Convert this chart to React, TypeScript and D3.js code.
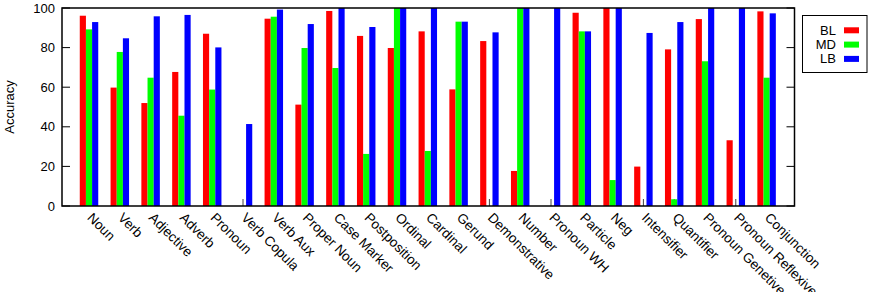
import React, { useEffect, useRef } from "react";
import * as d3 from "d3";

const categories = [
  "Noun", "Verb", "Adjective", "Adverb", "Pronoun", "Verb Copula", "Verb Aux",
  "Proper Noun", "Case Marker", "Postposition", "Ordinal", "Cardinal", "Gerund",
  "Demonstrative", "Number", "Pronoun WH", "Particle", "Neg", "Intensifier",
  "Quantifier", "Pronoun Genetive", "Pronoun Reflexive", "Conjunction",
];
const blValues = [96.1, 59.8, 52, 67.7, 87, 0, 94.6, 51.2, 98.5, 85.9, 79.8, 88.2, 58.9, 83.3, 17.7, 0, 97.6, 100, 19.9, 79.1, 94.4, 33.2, 98.3];
const mdValues = [89.2, 77.8, 64.8, 45.6, 58.8, 0, 95.6, 79.8, 69.7, 26.3, 100, 27.8, 93.1, 0, 100, 0, 88.2, 13.1, 0, 3.4, 73.1, 0, 64.8];
const lbValues = [92.9, 84.7, 95.8, 96.5, 80.1, 41.4, 99.2, 91.9, 100, 90.4, 100, 100, 93.1, 87.7, 100, 100, 88.2, 100, 87.4, 92.9, 100, 100, 97.3];
const seriesNames = ["BL", "MD", "LB"];
const seriesColors = ["#ff0000", "#00ff00", "#0000ff"];
const yTicks = [0, 20, 40, 60, 80, 100];

const W = 873;
const H = 292;
const L = 62, R = 794.5, T = 8, B = 206;

export default function App() {
  const ref = useRef<SVGSVGElement>(null);
  useEffect(() => {
    const svg = d3.select(ref.current);
    svg.selectAll("*").remove();
    const font = "'Liberation Sans', Arial, Helvetica, sans-serif";
    const x = d3.scaleLinear().domain([-0.877, 22.906]).range([L, R]);
    const y = d3.scaleLinear().domain([0, 100]).range([B, T]);
    const step = x(1) - x(0);
    const bw = step / 5;
    const series = [blValues, mdValues, lbValues];

    // y ticks (inward, both sides)
    const g = svg.append("g");
    yTicks.forEach((t) => {
      g.append("line").attr("x1", L).attr("x2", L + 8).attr("y1", y(t)).attr("y2", y(t)).attr("stroke", "#000");
      g.append("line").attr("x1", R - 8).attr("x2", R).attr("y1", y(t)).attr("y2", y(t)).attr("stroke", "#000");
      g.append("text").attr("x", L - 7).attr("y", y(t)).attr("dy", "0.35em")
        .attr("text-anchor", "end").attr("font-family", font).attr("font-size", 13).text(String(t));
    });
    // x ticks (inward, bottom)
    categories.forEach((c, i) => {
      g.append("line").attr("x1", x(i)).attr("x2", x(i)).attr("y1", B).attr("y2", B - 7).attr("stroke", "#444");
      g.append("text")
        .attr("transform", `translate(${x(i) - 2.5},${218.5}) rotate(45)`)
        .attr("text-anchor", "start").attr("font-family", font).attr("font-size", 13.6).text(c);
    });

    // bars
    series.forEach((vals, s) => {
      svg.append("g").selectAll("rect").data(vals).join("rect")
        .attr("x", (_d, i) => x(i) + (s - 1) * bw - bw / 2)
        .attr("width", bw)
        .attr("y", (d) => y(d))
        .attr("height", (d) => B - y(d))
        .attr("fill", seriesColors[s]);
    });

    // border
    svg.append("rect").attr("x", L).attr("y", T).attr("width", R - L).attr("height", B - T)
      .attr("fill", "none").attr("stroke", "#000").attr("stroke-width", 1.5);

    // y label
    svg.append("text").attr("transform", `translate(14,${(T + B) / 2}) rotate(-90)`)
      .attr("text-anchor", "middle").attr("font-family", font).attr("font-size", 13).text("Accuracy");

    // legend
    const lg = svg.append("g");
    lg.append("rect").attr("x", 802.5).attr("y", 15.5).attr("width", 64.5).attr("height", 57)
      .attr("fill", "#fff").attr("stroke", "#000").attr("stroke-width", 1);
    seriesNames.forEach((n, s) => {
      const cy = 30.3 + s * 14.3;
      lg.append("text").attr("x", 836).attr("y", cy).attr("dy", "0.35em").attr("text-anchor", "end")
        .attr("font-family", font).attr("font-size", 13).text(n);
      lg.append("rect").attr("x", 844).attr("y", cy - 3).attr("width", 15).attr("height", 6).attr("fill", seriesColors[s]);
    });
  }, []);
  return (
    <svg ref={ref} width={W} height={H} style={{ position: "absolute", left: 0, top: 0, background: "#fff" }} />
  );
}
